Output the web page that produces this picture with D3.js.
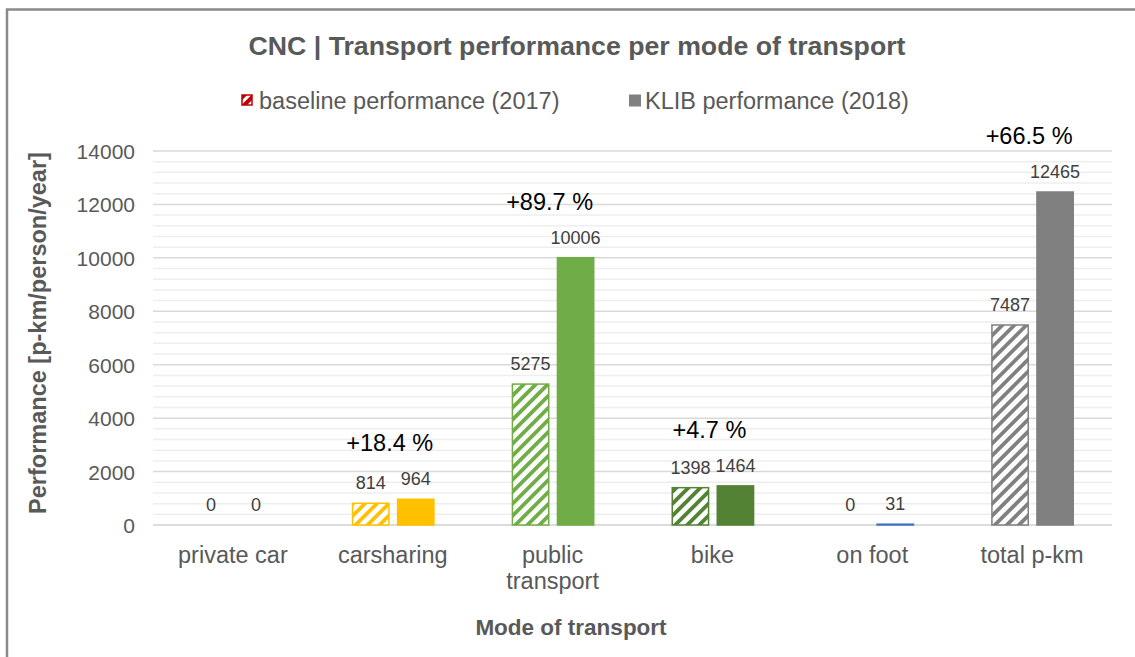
<!DOCTYPE html>
<html>
<head>
<meta charset="utf-8">
<script src="https://cdn.jsdelivr.net/npm/d3@7"></script>
<style>
  html, body { margin: 0; padding: 0; background: #fff; }
  svg { display: block; font-family: "Liberation Sans", Arial, sans-serif; }
</style>
</head>
<body>
<div id="chart"></div>
<script>
// --- Data ---
const categories = ['private car', 'carsharing', 'public transport', 'bike', 'on foot', 'total p-km'];
const tickLabels = [['private car'], ['carsharing'], ['public', 'transport'], ['bike'], ['on foot'], ['total p-km']];
const baseline2017 = [0, 814, 5275, 1398, 0, 7487];
const klib2018 = [0, 964, 10006, 1464, 31, 12465];
const barColors = ['#C00000', '#FFC000', '#70AD47', '#548235', '#4472C4', '#808080'];
const yTicks = [0, 2000, 4000, 6000, 8000, 10000, 12000, 14000];
const seriesNames = ['baseline performance (2017)', 'KLIB performance (2018)'];

// --- Layout ---
const width = 1135, height = 657;
const plot = { left: 153, right: 1112, top: 151, bottom: 525 };
const textGray = '#595959';

const svg = d3.select('#chart').append('svg')
    .attr('width', width)
    .attr('height', height);

const defs = svg.append('defs');

// hatch pattern per colour (wide upward diagonal)
function hatch(color, id, size, stripe) {
    const p = defs.append('pattern')
        .attr('id', id)
        .attr('patternUnits', 'userSpaceOnUse')
        .attr('width', size)
        .attr('height', size)
        .attr('patternTransform', 'rotate(45)');
    p.append('rect').attr('width', size).attr('height', size).attr('fill', '#fff');
    p.append('rect').attr('width', stripe).attr('height', size).attr('fill', color);
}
barColors.forEach((c, i) => hatch(c, 'hatch' + i, 8.5, 3.8));
hatch(barColors[0], 'hatchLegend', 7, 4);

// outer chart border
svg.append('rect')
    .attr('x', 7).attr('y', 9.5)
    .attr('width', 1200).attr('height', 700)
    .attr('fill', 'none')
    .attr('stroke', '#8a8a8a')
    .attr('stroke-width', 2.5);

// --- Scales ---
const x0 = d3.scaleBand()
    .domain(categories)
    .range([plot.left, plot.right])
    .padding(0);

const x1 = d3.scaleBand()
    .domain(['base', 'klib'])
    .range([39, x0.bandwidth() - 38])
    .paddingInner(0.16);

const y = d3.scaleLinear()
    .domain([0, 14000])
    .range([plot.bottom, plot.top]);

// --- Gridlines ---
const minorTicks = d3.range(0, 14001, 400).filter(v => v % 2000 !== 0);
svg.append('g').selectAll('line')
    .data(minorTicks)
    .join('line')
    .attr('x1', plot.left).attr('x2', plot.right)
    .attr('y1', d => y(d)).attr('y2', d => y(d))
    .attr('stroke', '#eeeeee')
    .attr('stroke-width', 1.5);

svg.append('g').selectAll('line')
    .data(yTicks)
    .join('line')
    .attr('x1', plot.left).attr('x2', plot.right)
    .attr('y1', d => y(d)).attr('y2', d => y(d))
    .attr('stroke', d => d === 0 ? '#d0d0d0' : '#d9d9d9')
    .attr('stroke-width', 1.5);

// --- Y axis labels ---
const yAxis = d3.axisLeft(y).tickValues(yTicks).tickSize(0).tickPadding(0).tickFormat(d3.format('d'));
const yAxisG = svg.append('g')
    .attr('transform', `translate(${plot.left - 18},0)`)
    .call(yAxis);
yAxisG.select('.domain').remove();
yAxisG.selectAll('text')
    .attr('font-size', 21)
    .attr('font-family', '"Liberation Sans", Arial, sans-serif')
    .attr('fill', textGray)
    .attr('dy', '0.36em');

// --- X axis labels ---
const xLabels = svg.append('g').selectAll('text')
    .data(categories)
    .join('text')
    .attr('x', d => x0(d) + x0.bandwidth() / 2)
    .attr('y', 563)
    .attr('text-anchor', 'middle')
    .attr('font-size', 23.5)
    .attr('fill', textGray);
xLabels.each(function(d, i) {
    d3.select(this).selectAll('tspan')
        .data(tickLabels[i])
        .join('tspan')
        .attr('x', x0(d) + x0.bandwidth() / 2)
        .attr('dy', (t, j) => j === 0 ? 0 : 26)
        .text(t => t);
});

// --- Bars ---
const rows = categories.map((c, i) => ({
    cat: c, i,
    values: [
        { key: 'base', v: baseline2017[i] },
        { key: 'klib', v: klib2018[i] }
    ]
}));

const groups = svg.append('g').selectAll('g')
    .data(rows)
    .join('g')
    .attr('transform', d => `translate(${x0(d.cat)},0)`);

groups.selectAll('rect')
    .data(d => d.values.map(v => ({ ...v, i: d.i })))
    .join('rect')
    .attr('x', d => x1(d.key) + 0.75)
    .attr('width', x1.bandwidth() - 1.5)
    .attr('y', d => y(d.v))
    .attr('height', d => y(0) - y(d.v))
    .attr('fill', d => d.key === 'base' ? `url(#hatch${d.i})` : barColors[d.i])
    .attr('stroke', d => d.v > 0 ? barColors[d.i] : 'none')
    .attr('stroke-width', 1.5);

// value labels
groups.selectAll('text.val')
    .data(d => d.values)
    .join('text')
    .attr('class', 'val')
    .attr('x', d => x1(d.key) + x1.bandwidth() / 2)
    .attr('y', d => y(d.v) - 14)
    .attr('text-anchor', 'middle')
    .attr('font-size', 18)
    .attr('fill', '#404040')
    .text(d => d.v);

// percentage change labels
groups.filter(d => d.values[0].v > 0)
    .append('text')
    .attr('x', x0.bandwidth() / 2 - 3)
    .attr('y', d => y(d3.max(d.values, v => v.v)) - 48)
    .attr('text-anchor', 'middle')
    .attr('font-size', 23.5)
    .attr('fill', '#000')
    .text(d => '+' + ((d.values[1].v / d.values[0].v - 1) * 100).toFixed(1) + ' %');

// --- Title ---
svg.append('text')
    .attr('x', 577)
    .attr('y', 55)
    .attr('text-anchor', 'middle')
    .attr('font-size', 26.7)
    .attr('font-weight', 'bold')
    .attr('fill', textGray)
    .text('CNC | Transport performance per mode of transport');

// --- Legend ---
const legend = svg.append('g');
legend.append('rect')
    .attr('x', 242).attr('y', 95)
    .attr('width', 10).attr('height', 10)
    .attr('fill', 'url(#hatchLegend)')
    .attr('stroke', barColors[0]).attr('stroke-width', 1.5);
legend.append('text')
    .attr('x', 259).attr('y', 109)
    .attr('font-size', 23.5)
    .attr('fill', textGray)
    .text(seriesNames[0]);
legend.append('rect')
    .attr('x', 629).attr('y', 94.5)
    .attr('width', 12).attr('height', 12)
    .attr('fill', '#808080');
legend.append('text')
    .attr('x', 645).attr('y', 109)
    .attr('font-size', 23.5)
    .attr('fill', textGray)
    .text(seriesNames[1]);

// --- Axis titles ---
svg.append('text')
    .attr('transform', `translate(46,${(plot.top + plot.bottom) / 2 - 5}) rotate(-90)`)
    .attr('text-anchor', 'middle')
    .attr('font-size', 23.5)
    .attr('font-weight', 'bold')
    .attr('fill', textGray)
    .text('Performance [p-km/person/year]');

svg.append('text')
    .attr('x', 571)
    .attr('y', 635)
    .attr('text-anchor', 'middle')
    .attr('font-size', 22.5)
    .attr('font-weight', 'bold')
    .attr('fill', textGray)
    .text('Mode of transport');
</script>
</body>
</html>
